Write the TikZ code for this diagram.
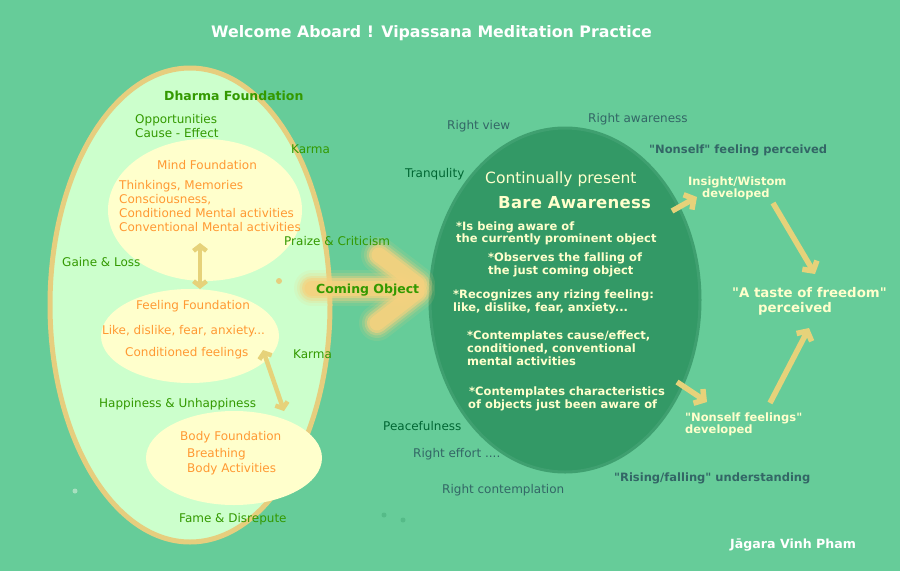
\documentclass[tikz,border=0pt]{standalone}
\usepackage{fontspec}
\setmainfont{DejaVu Sans}[Ligatures=TeXOff]
\usetikzlibrary{arrows.meta,shapes.geometric}
\definecolor{bg}{HTML}{66CC99}
\definecolor{dharmafill}{HTML}{CCFFCC}
\definecolor{rim}{HTML}{E6CE7E}
\definecolor{cream}{HTML}{FFFFCC}
\definecolor{orangetxt}{HTML}{FF9933}
\definecolor{greentxt}{HTML}{339900}
\definecolor{darkell}{HTML}{339966}
\definecolor{darkrim}{HTML}{3FA070}
\definecolor{tealtxt}{HTML}{336666}
\definecolor{deepgreen}{HTML}{006633}
\definecolor{arrowtan}{HTML}{E6D27A}
\definecolor{glow}{HTML}{F5D27F}
\definecolor{dotpale}{HTML}{A8E0C0}
\definecolor{dotgreen}{HTML}{55BB88}
\begin{document}
\begin{tikzpicture}[x=1pt,y=-1pt,
  lbl/.style={anchor=base west, inner sep=0pt, font=\fontsize{12}{14}\selectfont},
  grn/.style={lbl, text=greentxt},
  org/.style={lbl, text=orangetxt},
  tealreg/.style={lbl, text=tealtxt},
  deep/.style={lbl, text=deepgreen},
  bld/.style={anchor=base west, inner sep=0pt, font=\fontsize{11.5}{13}\selectfont\bfseries, text=cream},
  tealbld/.style={bld, text=tealtxt},
  arr/.style={draw=arrowtan, line width=5.5pt, -{Straight Barb[length=7pt,width=17pt]}},
  darr/.style={draw=arrowtan, line width=4.5pt, {Straight Barb[length=5pt,width=13pt]}-{Straight Barb[length=5pt,width=13pt]}},
  ell/.style={ellipse, inner sep=0pt}
]
\useasboundingbox (0,0) rectangle (900,571);
\fill[bg] (0,0) rectangle (900,571);

% title
\node[anchor=base west, inner sep=0pt, font=\fontsize{15.8}{18}\selectfont\bfseries, text=white] (title) at (211,37) {Welcome Aboard ! Vipassana Meditation Practice};

% left big ellipse
\node[ell, draw=rim, line width=5pt, fill=dharmafill, minimum width=280pt, minimum height=474pt] (dharma) at (190,305) {};
\node[ell, fill=cream, minimum width=194pt, minimum height=142pt] (mind) at (205,210) {};
\node[ell, fill=cream, minimum width=178pt, minimum height=94pt] (feel) at (190,336) {};
\node[ell, fill=cream, minimum width=176pt, minimum height=94pt] (body) at (234,458) {};

% dark ellipse
\node[ell, draw=darkrim, line width=3pt, fill=darkell, minimum width=270pt, minimum height=344pt] (aware) at (565,300) {};

% coming object glow arrow
\foreach \w/\o in {36/0.12, 30/0.2, 25/0.35, 20/0.6, 15/0.8} {
  \draw[glow, line width=\w pt, line cap=round, opacity=\o] (312,288) -- (400,288);
  \draw[glow, line width=\w pt, line cap=round, opacity=\o] (379,255) -- (417,284);
  \draw[glow, line width=\w pt, line cap=round, opacity=\o] (377,323) -- (417,292);
}

% dots
\fill[rim] (279,281) circle (3pt);
\fill[dotpale] (75,491) circle (2.5pt);
\fill[dotgreen] (384,515) circle (2.5pt);
\fill[dotgreen] (403,520) circle (2.5pt);

% left ellipse texts
\node[anchor=base west, inner sep=0pt, font=\fontsize{12.5}{14}\selectfont\bfseries, text=greentxt] (dft) at (164,100) {Dharma Foundation};
\node[grn] (opp) at (135,123) {Opportunities};
\node[grn] (cause) at (135,137) {Cause - Effect};
\node[grn] (karma1) at (291,153) {Karma};
\node[org] (mft) at (157,169) {Mind Foundation};
\node[org] (m1) at (119,189) {Thinkings, Memories};
\node[org] (m2) at (119,203) {Consciousness,};
\node[org] (m3) at (119,217) {Conditioned Mental activities};
\node[org] (m4) at (119,231) {Conventional Mental activities};
\node[grn] (praize) at (284,245) {Praize \& Criticism};
\node[grn] (gaine) at (62,266) {Gaine \& Loss};
\node[anchor=base west, inner sep=0pt, font=\fontsize{12.5}{14}\selectfont\bfseries, text=greentxt] (coming) at (316,293) {Coming Object};
\node[org] (fft) at (136,309) {Feeling Foundation};
\node[org] (f1) at (102,334) {Like, dislike, fear, anxiety...};
\node[org] (f2) at (125,356) {Conditioned feelings};
\node[grn] (karma2) at (293,358) {Karma};
\node[grn] (happy) at (99,407) {Happiness \& Unhappiness};
\node[org] (bft) at (180,440) {Body Foundation};
\node[org] (b1) at (187,457) {Breathing};
\node[org] (b2) at (187,472) {Body Activities};
\node[grn] (fame) at (179,522) {Fame \& Disrepute};

% surrounding labels
\node[tealreg] (rview) at (447,129) {Right view};
\node[tealreg] (rawr) at (588,122) {Right awareness};
\node[deep] (tranq) at (405,177) {Tranqulity};
\node[deep] (peace) at (383,430) {Peacefulness};
\node[tealreg] (reffort) at (413,457) {Right effort ....};
\node[tealreg] (rcont) at (442,493) {Right contemplation};

% inside dark ellipse
\node[anchor=base west, inner sep=0pt, font=\fontsize{15.5}{17}\selectfont, text=cream] (cont) at (485,183) {Continually present};
\node[anchor=base west, inner sep=0pt, font=\fontsize{16.5}{19}\selectfont\bfseries\addfontfeature{LetterSpace=1.5}, text=cream] (bare) at (498,208) {Bare Awareness};
\node[bld] (i1) at (456,230) {*Is being aware of};
\node[bld] (i2) at (456,242) {the currently prominent object};
\node[bld] (o1) at (488,261) {*Observes the falling of};
\node[bld] (o2) at (488,274) {the just coming object};
\node[bld] (r1) at (453,298) {*Recognizes any rizing feeling:};
\node[bld] (r2) at (453,311) {like, dislike, fear, anxiety...};
\node[bld] (c1) at (467,339) {*Contemplates cause/effect,};
\node[bld] (c2) at (467,352) {conditioned, conventional};
\node[bld] (c3) at (467,365) {mental activities};
\node[bld] (h1) at (469,395) {*Contemplates characteristics};
\node[bld] (h2) at (468,408) {of objects just been aware of};

% right side
\node[tealbld] (nsp) at (649,153) {"Nonself" feeling perceived};
\node[bld] (ins1) at (688,185) {Insight/Wistom};
\node[bld] (ins2) at (702,197) {developed};
\node[anchor=base west, inner sep=0pt, font=\fontsize{13.3}{15}\selectfont\bfseries, text=cream] (taste1) at (732,297) {"A taste of freedom"};
\node[anchor=base west, inner sep=0pt, font=\fontsize{13.3}{15}\selectfont\bfseries, text=cream] (taste2) at (758,312) {perceived};
\node[bld] (nsf1) at (685,421) {"Nonself feelings"};
\node[bld] (nsf2) at (685,433) {developed};
\node[tealbld] (rise) at (614,481) {"Rising/falling" understanding};
\node[bld, text=white, font=\fontsize{12.6}{14}\selectfont\bfseries] (author) at (730,548) {Jāgara Vinh Pham};

% arrow end points
\coordinate (a1s) at (672,211);
\coordinate (a1e) at (697,197);
\coordinate (a2s) at (773,203);
\coordinate (a2e) at (815,274);
\coordinate (a3s) at (770,403);
\coordinate (a3e) at (809,328);
\coordinate (a4s) at (677,382);
\coordinate (a4e) at (707,402);
\coordinate (d1s) at (200,243);
\coordinate (d1e) at (200,289);
\coordinate (d2s) at (263,350);
\coordinate (d2e) at (284,411);

\draw[arr] (a1s) -- (a1e);
\draw[arr] (a2s) -- (a2e);
\draw[arr] (a3s) -- (a3e);
\draw[arr] (a4s) -- (a4e);
\draw[darr] (d1s) -- (d1e);
\draw[darr] (d2s) -- (d2e);
\end{tikzpicture}
\end{document}
